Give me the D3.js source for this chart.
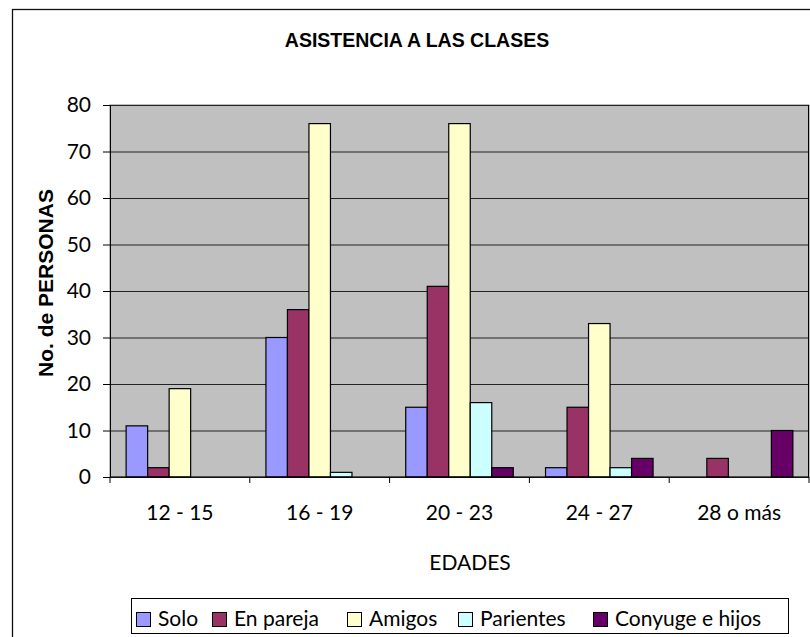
<html>
<head>
    <script src="https://d3js.org/d3.v7.min.js"></script>
</head>
<style>
    body { margin: 0; background: #fff; }
    .gridlines line { stroke: #222; }
    .gridlines .domain { stroke: none; }
    .axis text { font-family: Lato, sans-serif; font-size: 21px; fill: #000; }
    .axis line, .axis path { stroke: #000; }
</style>
<body>
    <svg height="637" width="810" id="chart"></svg>
</body>
<script>
    // data
    const categories = ["12 - 15", "16 - 19", "20 - 23", "24 - 27", "28 o más"];
    const series_names = ["Solo", "En pareja", "Amigos", "Parientes", "Conyuge e hijos"];
    const solo = [11, 30, 15, 2, 0];
    const en_pareja = [2, 36, 41, 15, 4];
    const amigos = [19, 76, 76, 33, 0];
    const parientes = [0, 1, 16, 2, 0];
    const conyuge = [0, 0, 2, 4, 10];
    const y_ticks = [0, 10, 20, 30, 40, 50, 60, 70, 80];
    const colors = ["#9999ff", "#993366", "#ffffcc", "#ccffff", "#660066"];

    const all_series = [solo, en_pareja, amigos, parientes, conyuge];

    let plt = d3.select('svg#chart');
    let margins = { "top": 105, "right": 1, "bottom": 160, "left": 110 };
    let width = +plt.attr('width');
    let inner_w = width - margins.left - margins.right;
    let inner_h = 477 - margins.top;

    // outer chart border
    plt.append('rect')
        .attr('x', 12.5).attr('y', 9.5)
        .attr('width', 830).attr('height', 660)
        .attr('fill', 'none').attr('stroke', '#111').attr('stroke-width', 1.3);

    plt.append('text')
        .attr('x', 417).attr('y', 47)
        .attr('text-anchor', 'middle')
        .style('font-family', 'Liberation Sans, Arial, sans-serif')
        .style('font-weight', 'bold').style('font-size', '19.5px')
        .text('ASISTENCIA A LAS CLASES');

    let y_scale = d3.scaleLinear().domain([0, 80]).range([inner_h, 0]);
    let x_scale = d3.scaleBand().domain(categories).range([0, inner_w]).paddingInner(0).paddingOuter(0);
    let x_inner = d3.scaleBand().domain(series_names).range([0, x_scale.bandwidth()]).paddingInner(0).paddingOuter(0.75);

    let chart_area = plt.append('g')
        .attr('transform', `translate(${margins.left},${margins.top})`);

    chart_area.append('rect')
        .attr('width', inner_w).attr('height', inner_h)
        .attr('fill', '#c0c0c0').attr('stroke', '#808080');

    chart_area.append('g')
        .attr('class', 'gridlines')
        .call(d3.axisLeft(y_scale).tickValues(y_ticks).tickFormat('').tickSize(-inner_w));

    // right border of plot area
    chart_area.append('line')
        .attr('x1', inner_w - 0.5).attr('x2', inner_w - 0.5)
        .attr('y1', 0).attr('y2', inner_h)
        .attr('stroke', '#000');

    let groups = chart_area.selectAll('g.group')
        .data(categories)
        .join('g')
        .attr('class', 'group')
        .attr('transform', d => `translate(${x_scale(d)},0)`);

    groups.selectAll('rect')
        .data((c, i) => all_series.map((s, k) => ({ name: series_names[k], value: s[i], color: colors[k] })).filter(d => d.value > 0))
        .join('rect')
        .attr('x', d => x_inner(d.name))
        .attr('y', d => y_scale(d.value))
        .attr('width', x_inner.bandwidth())
        .attr('height', d => inner_h - y_scale(d.value))
        .attr('fill', d => d.color)
        .attr('stroke', '#000')
        .attr('stroke-width', 1.2);

    chart_area.append('g')
        .attr('class', 'axis')
        .call(d3.axisLeft(y_scale).tickValues(y_ticks).tickSize(7).tickPadding(12));

    let x_axis = chart_area.append('g')
        .attr('class', 'axis')
        .attr('transform', `translate(0,${inner_h})`)
        .call(d3.axisBottom(x_scale).tickSize(0).tickPadding(28));
    x_axis.select('.domain').attr('d', `M0,0H${inner_w}`);

    // category boundary ticks
    x_axis.selectAll('line.bound')
        .data(d3.range(categories.length + 1))
        .join('line')
        .attr('class', 'bound')
        .attr('x1', i => i * x_scale.step()).attr('x2', i => i * x_scale.step())
        .attr('y1', 0).attr('y2', 6)
        .attr('stroke', '#000');

    plt.append('text')
        .attr('x', 470).attr('y', 570)
        .attr('text-anchor', 'middle')
        .style('font-family', 'Lato, sans-serif').style('font-size', '21px')
        .text('EDADES');

    plt.append('text')
        .attr('transform', 'translate(53,283) rotate(-90)')
        .attr('text-anchor', 'middle')
        .style('font-family', 'Liberation Sans, Arial, sans-serif')
        .style('font-weight', 'bold').style('font-size', '21px')
        .text('No. de PERSONAS');

    // legend
    let legend = plt.append('g').attr('transform', 'translate(131,598)');
    legend.append('rect')
        .attr('x', 0.5).attr('y', 0.5).attr('width', 657).attr('height', 35)
        .attr('fill', '#fff').attr('stroke', '#000');

    let offsets = [5, 81, 216, 327, 462];
    let items = legend.selectAll('g.item')
        .data(series_names)
        .join('g')
        .attr('class', 'item')
        .attr('transform', (d, i) => `translate(${offsets[i]},0)`);
    items.append('rect')
        .attr('x', 0.5).attr('y', 14.5).attr('width', 14).attr('height', 14)
        .attr('fill', (d, i) => colors[i]).attr('stroke', '#000');
    items.append('text')
        .attr('x', 22).attr('y', 28)
        .style('font-family', 'Lato, sans-serif').style('font-size', '21px')
        .text(d => d);
</script>
</html>
